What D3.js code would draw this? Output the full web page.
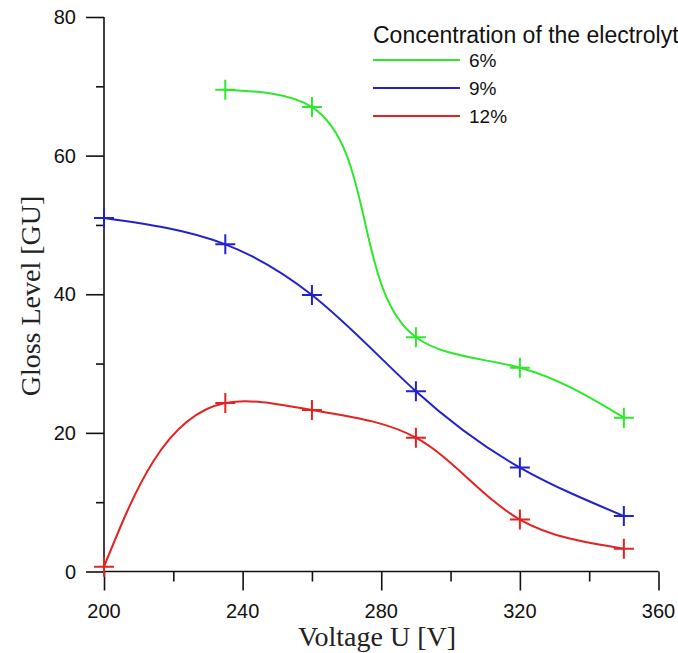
<!DOCTYPE html>
<html><head><meta charset="utf-8">
<script src="https://cdn.jsdelivr.net/npm/d3@7"></script>
<style>html,body{margin:0;padding:0;background:#fff;overflow:hidden}</style>
</head><body>
<svg id="c" width="678" height="653"></svg>
<script>
const voltages = [200, 235, 260, 290, 320, 350];
const series6 = [null, 69.5, 67.0, 33.8, 29.4, 22.2];
const series9 = [51.0, 47.2, 39.9, 26.0, 15.0, 8.0];
const series12 = [0.7, 24.3, 23.3, 19.3, 7.5, 3.3];
const seriesNames = ["6%", "9%", "12%"];
const seriesColors = ["#2de82d", "#2222cc", "#e42222"];
const xTicks = [200, 240, 280, 320, 360];
const yTicks = [0, 20, 40, 60, 80];
const legendTitle = "Concentration of the electrolyte";

// natural cubic spline second derivatives for knots T, values V
function natM(T, V) {
  const n = T.length, M = new Array(n).fill(0);
  if (n < 3) return M;
  const a = [], b = [], c = [], d = [];
  for (let i = 1; i < n - 1; i++) {
    const h0 = T[i] - T[i - 1], h1 = T[i + 1] - T[i];
    a.push(h0); b.push(2 * (h0 + h1)); c.push(h1);
    d.push(6 * ((V[i + 1] - V[i]) / h1 - (V[i] - V[i - 1]) / h0));
  }
  const m = b.length;
  for (let i = 1; i < m; i++) { const w = a[i] / b[i - 1]; b[i] -= w * c[i - 1]; d[i] -= w * d[i - 1]; }
  const s = new Array(m);
  s[m - 1] = d[m - 1] / b[m - 1];
  for (let i = m - 2; i >= 0; i--) s[i] = (d[i] - c[i] * s[i + 1]) / b[i];
  for (let i = 0; i < m; i++) M[i + 1] = s[i];
  return M;
}
// Custom d3 curve: parametric cubic spline with chord-length parameterisation
function ChordSpline(context) { this._context = context; }
ChordSpline.prototype = {
  areaStart() { this._line = 0; }, areaEnd() { this._line = NaN; },
  lineStart() { this._x = []; this._y = []; },
  point(x, y) { this._x.push(+x); this._y.push(+y); },
  lineEnd() {
    const X = this._x, Y = this._y, n = X.length, c = this._context;
    if (!n) return;
    c.moveTo(X[0], Y[0]);
    if (n < 3) { for (let i = 1; i < n; i++) c.lineTo(X[i], Y[i]); return; }
    const T = [0];
    for (let i = 1; i < n; i++) T.push(T[i - 1] + Math.hypot(X[i] - X[i - 1], Y[i] - Y[i - 1]));
    const MX = natM(T, X), MY = natM(T, Y);
    for (let i = 0; i < n - 1; i++) {
      const h = T[i + 1] - T[i];
      const sx = (X[i + 1] - X[i]) / h, sy = (Y[i + 1] - Y[i]) / h;
      const dx0 = sx - h * (2 * MX[i] + MX[i + 1]) / 6, dx1 = sx + h * (MX[i] + 2 * MX[i + 1]) / 6;
      const dy0 = sy - h * (2 * MY[i] + MY[i + 1]) / 6, dy1 = sy + h * (MY[i] + 2 * MY[i + 1]) / 6;
      c.bezierCurveTo(X[i] + dx0 * h / 3, Y[i] + dy0 * h / 3, X[i + 1] - dx1 * h / 3, Y[i + 1] - dy1 * h / 3, X[i + 1], Y[i + 1]);
    }
  }
};
const curveChordSpline = ctx => new ChordSpline(ctx);

const svg = d3.select("#c");
const x = d3.scaleLinear().domain([200, 360]).range([104, 658.5]);
const y = d3.scaleLinear().domain([0, 80]).range([571.5, 17]);
const sans = "Liberation Sans, Arial, sans-serif";
const serif = "Liberation Serif, Times New Roman, serif";

// x axis
const xg = svg.append("g").attr("transform", `translate(0,${y(0)})`);
xg.call(d3.axisBottom(x).tickValues(d3.range(200, 361, 20)).tickSize(10).tickFormat(""));
xg.selectAll(".tick line").filter(d => xTicks.includes(d)).attr("y2", 19);
xg.append("g").selectAll("text").data(xTicks).join("text")
  .attr("x", d => x(d)).attr("y", 46).attr("text-anchor", "middle")
  .attr("font-family", sans).attr("font-size", 20).attr("fill", "#111").text(d => d);
xg.select(".domain").attr("d", `M${x(200)},0H${x(360)}`);

// y axis
const yg = svg.append("g").attr("transform", `translate(${x(200)},0)`);
yg.call(d3.axisLeft(y).tickValues(d3.range(0, 81, 10)).tickSize(8).tickFormat(""));
yg.selectAll(".tick line").filter(d => yTicks.includes(d)).attr("x2", -18);
yg.append("g").selectAll("text").data(yTicks).join("text")
  .attr("x", -28).attr("y", d => y(d) + 7).attr("text-anchor", "end")
  .attr("font-family", sans).attr("font-size", 20).attr("fill", "#111").text(d => d);
yg.select(".domain").attr("d", `M0,${y(0)}V${y(80)}`);
svg.selectAll(".domain, .tick line").attr("stroke", "#111").attr("stroke-width", 1.6);

// axis titles
svg.append("text").attr("x", 377).attr("y", 646).attr("text-anchor", "middle")
  .attr("font-family", serif).attr("font-size", 28).attr("fill", "#222")
  .text("Voltage U [V]");
svg.append("text").attr("transform", `translate(40,296) rotate(-90)`).attr("text-anchor", "middle")
  .attr("font-family", serif).attr("font-size", 28).attr("fill", "#222")
  .text("Gloss Level [GU]");

// series
const allSeries = [series6, series9, series12];
const line = d3.line().x(d => x(d[0])).y(d => y(d[1])).curve(curveChordSpline);
allSeries.forEach((s, i) => {
  const pts = voltages.map((v, j) => [v, s[j]]).filter(p => p[1] !== null);
  const g = svg.append("g");
  g.append("path").attr("d", line(pts)).attr("fill", "none")
    .attr("stroke", seriesColors[i]).attr("stroke-width", 2);
  g.selectAll("path.m").data(pts).join("path").attr("class", "m")
    .attr("d", p => `M${x(p[0]) - 10},${y(p[1])}H${x(p[0]) + 10}M${x(p[0])},${y(p[1]) - 10}V${y(p[1]) + 10}`)
    .attr("stroke", seriesColors[i]).attr("stroke-width", 2).attr("fill", "none");
});

// legend
const lg = svg.append("g");
lg.append("text").attr("x", 373).attr("y", 43)
  .attr("font-family", sans).attr("font-size", 23).attr("fill", "#111")
  .text(legendTitle);
seriesNames.forEach((n, i) => {
  const yy = 60 + i * 28;
  lg.append("line").attr("x1", 373).attr("x2", 460).attr("y1", yy).attr("y2", yy)
    .attr("stroke", seriesColors[i]).attr("stroke-width", 2);
  lg.append("text").attr("x", 469).attr("y", yy + 7)
    .attr("font-family", sans).attr("font-size", 19).attr("fill", "#111").text(n);
});
</script>
</body></html>
